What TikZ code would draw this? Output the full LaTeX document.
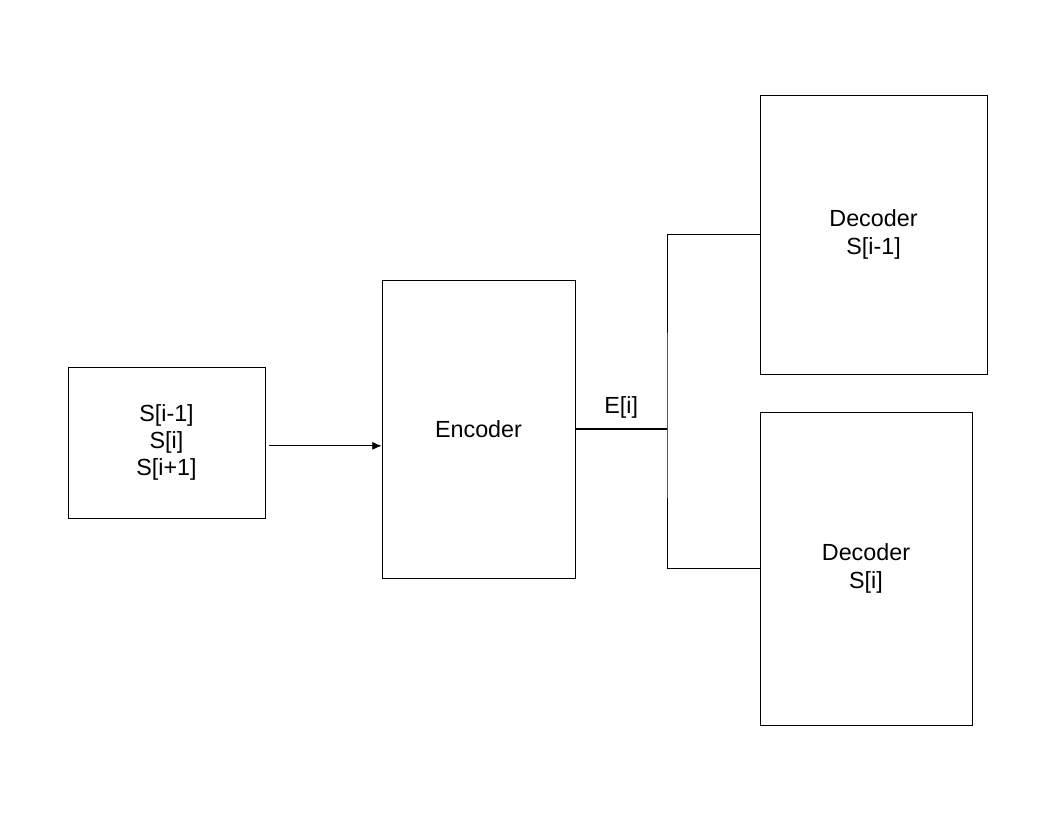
\documentclass[tikz,border=0pt]{standalone}
\usepackage{fontspec}
\setmainfont{Liberation Sans}
\usetikzlibrary{arrows.meta}

\tikzset{
    block/.style={draw, line width=0.6pt, inner sep=0pt, align=center,
        font=\fontsize{17.5}{20.5}\selectfont},
    wire/.style={line width=0.6pt}
}

\begin{document}
\begin{tikzpicture}[x=0.75pt, y=-0.75pt]
    \useasboundingbox (0,0) rectangle (1056,816);

    % Create the blocks
    \node[block, minimum width=197*0.75pt, minimum height=151*0.75pt] (input) at (166.5,442.5) {S[i-1]\\S[i]\\S[i+1]};
    \node[block, minimum width=193*0.75pt, minimum height=298*0.75pt] (enc) at (478.5,429) {Encoder};
    \node[block, minimum width=227*0.75pt, minimum height=279*0.75pt] (dec1) at (873.5,234.5) {Decoder\\S[i-1]};
    \node[block, minimum width=212*0.75pt, minimum height=313*0.75pt] (dec2) at (866,568.5) {Decoder\\S[i]};
    \coordinate (split) at (667,429);

    % Draw connections
    \draw[wire, -{Latex[length=7pt,width=6pt]}] ([xshift=3pt,yshift=-2.5pt]input.east) -- ([yshift=-2.5pt]input.east -| enc.west);
    \draw[wire, line width=0.9pt] (enc.east) -- node[above=4pt, font=\fontsize{17.5}{20}\selectfont] (elabel) {E[i]} (split);
    \draw[wire] (dec1.west) -| (split) |- (dec2.west);
\end{tikzpicture}
\end{document}
